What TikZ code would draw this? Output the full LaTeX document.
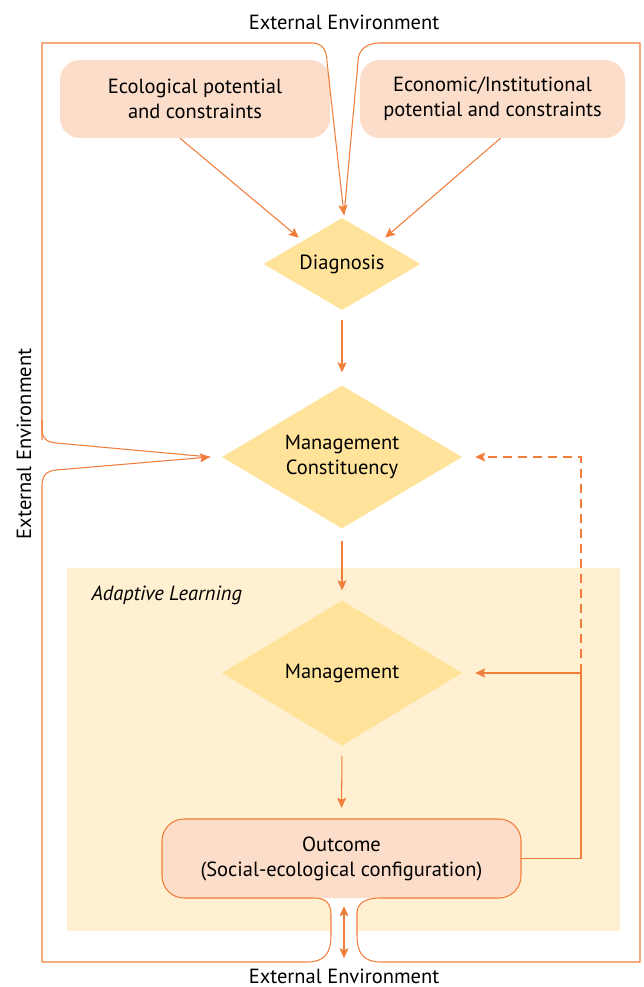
\documentclass[tikz,border=0pt]{standalone}
\usepackage{fontspec}
\setmainfont{PT Sans}
\usetikzlibrary{shapes.geometric,arrows.meta}
\definecolor{lineor}{RGB}{240,125,58}
\definecolor{peach}{RGB}{252,221,201}
\definecolor{diafill}{RGB}{255,227,155}
\definecolor{bgfill}{RGB}{255,240,209}
\begin{document}
\begin{tikzpicture}[x=1pt,y=-1pt,
  lab/.style={font=\fontsize{20.5}{25}\selectfont, align=center, text=black},
  softbox/.style={lab, fill=peach, rounded corners=20pt, inner sep=0pt, minimum height=78pt},
  dia/.style={lab, diamond, aspect=1.68, fill=diafill, inner sep=0pt},
  edge/.style={draw=lineor, line width=1.05pt},
  tip/.tip={Stealth[length=10pt,width=9pt,inset=2pt]},
  flow/.style={edge, -tip}]
\useasboundingbox (0,0) rectangle (643,987);
% adaptive learning background
\fill[bgfill] (67,568) rectangle (620,931);
\fill[white] (313,898) .. controls (326,898) and (331,903) .. (331,915) -- (331,932) -- (357,932) -- (357,913) .. controls (357,903) and (366,898) .. (380,898) -- cycle;
\node[lab, font=\fontsize{20.5}{25}\selectfont\itshape, anchor=west] (al) at (88,595) {Adaptive Learning};
% nodes
\node[softbox, minimum width=270pt] (eco) at (195,99) {Ecological potential\\and constraints};
\node[softbox, minimum width=265pt] (econ) at (492.5,99) {Economic/Institutional\\potential and constraints};
\node[dia, minimum width=157pt, minimum height=92pt] (diag) at (342,264) {Diagnosis};
\node[dia, minimum width=240pt, minimum height=143pt] (mc) at (342,457) {Management\\Constituency};
\node[dia, minimum width=240pt, minimum height=145pt] (mg) at (342,673) {Management};
\node[lab, fill=peach, rounded corners=22pt, inner sep=0pt, minimum width=359pt, minimum height=79pt] (out) at (341.5,858.5) {Outcome\\(Social-ecological configuration)};
% outcome outline
\draw[edge, rounded corners=22pt] (313,898) -- (162,898) -- (162,819) -- (521,819) -- (521,898) -- (380,898);
% labels
\node[lab] (ettop) at (344,22) {External Environment};
\node[lab] (etbot) at (344,976) {External Environment};
\node[lab, rotate=90] (etleft) at (24,444) {External Environment};
% frame
\coordinate (ttip) at (344,215);
\draw[flow] (42,440) -- (42,43) -- (312,43) .. controls (322,43) and (327,50) .. (327,62) -- (ttip);
\draw[edge] (640,962) -- (640,43) -- (380,43) .. controls (366,43) and (358,50) .. (358,62) -- (ttip);
\coordinate (ltip) at (210,457);
\draw[edge] (42,420) -- (42,428) .. controls (42,438) and (46,442) .. (56,443) -- (ltip);
\draw[flow] (42,962) -- (42,486) .. controls (42,476) and (46,471) .. (56,470) -- (ltip);
\draw[edge] (313,898) .. controls (326,898) and (331,903) .. (331,915) -- (331,935) .. controls (331,954) and (324,962) .. (307,962) -- (42,962);
\draw[edge] (380,898) .. controls (366,898) and (357,903) .. (357,913) -- (357,935) .. controls (357,954) and (364,962) .. (381,962) -- (640,962);
\draw[edge, tip-tip] ([yshift=-8pt]out.south -| ttip) -- ([yshift=-60pt]out.south -| ttip);
% flow arrows
\draw[flow, shorten >=5pt] ([xshift=-15pt]eco.south) -- (diag.north west);
\draw[flow, shorten >=5pt] ([xshift=8pt]econ.south) -- (diag.north east);
\draw[flow, shorten <=10pt, shorten >=13pt] (diag.south) -- (mc.north);
\draw[flow, shorten <=12pt, shorten >=10pt] (mc.south) -- (mg.north);
\draw[flow, shorten <=10pt, shorten >=11pt] (mg.south) -- (out.north);
% feedback
\coordinate (fb) at (581,673);
\draw[flow, shorten >=13pt] (out.east) -| (fb) -- (mg.east);
\draw[flow, dash pattern=on 9pt off 6pt, shorten >=13pt] (fb) |- (mc.east);
\end{tikzpicture}
\end{document}
